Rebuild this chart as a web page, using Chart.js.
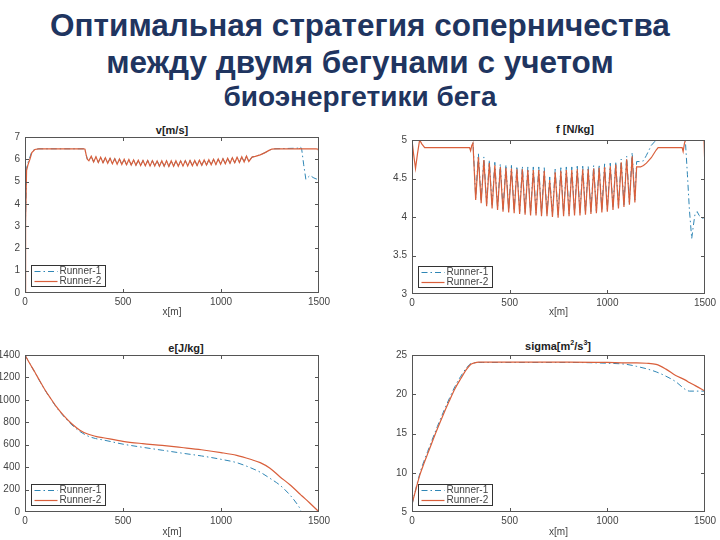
<!DOCTYPE html>
<html><head><meta charset="utf-8">
<script src="https://cdn.jsdelivr.net/npm/chart.js@4/dist/chart.umd.min.js"></script>
<style>
html,body{margin:0;padding:0;background:#fff;width:720px;height:540px;overflow:hidden;}
.t{position:absolute;left:0;width:720px;text-align:center;font-family:"Liberation Sans",Arial,sans-serif;font-weight:bold;color:#1f3560;white-space:nowrap;}
.st{position:absolute;font-family:"Liberation Sans",Arial,sans-serif;font-weight:bold;font-size:11px;color:#222;transform:translate(-50%,-50%);white-space:nowrap;line-height:12px;}
.st sup{font-size:7px;line-height:0;}
canvas{position:absolute;}
</style></head><body>
<div class="t" style="top:6px;font-size:31.5px;line-height:38px;">Оптимальная стратегия соперничества</div>
<div class="t" style="top:43px;font-size:31.5px;line-height:38px;">между двумя бегунами с учетом</div>
<div class="t" style="top:81px;font-size:28px;line-height:32px;">биоэнергетики бега</div>

<div class="st" style="left:172px;top:130px">v[m/s]</div>
<div class="st" style="left:575px;top:129px">f [N/kg]</div>
<div class="st" style="left:186px;top:348px">e[J/kg]</div>
<div class="st" style="left:558px;top:346px">sigma[m<sup>2</sup>/s<sup>3</sup>]</div>

<canvas id="cv" width="340" height="210" style="left:0;top:115px;width:340px;height:210px"></canvas>
<canvas id="cf" width="360" height="210" style="left:360px;top:115px;width:360px;height:210px"></canvas>
<canvas id="ce" width="340" height="210" style="left:0;top:330px;width:340px;height:210px"></canvas>
<canvas id="cs" width="360" height="210" style="left:360px;top:330px;width:360px;height:210px"></canvas>

<script>
// ---------- DATA ----------
const seriesNames = ['Runner-1', 'Runner-2'];
const xTicks = [0, 500, 1000, 1500];

// v [m/s]
const vDist = [0,3,8,15,25,35,50,70,300,306,312,318,326,
 338,350,362,374,386,398,410,422,434,446,458,470,482,494,506,518,530,542,554,566,578,590,602,614,626,638,650,662,674,686,698,710,722,734,746,758,770,782,794,806,818,830,842,854,866,878,890,902,914,926,938,950,962,974,986,998,1010,1022,1034,1046,1058,1070,1082,1094,1106,1118,1130,1142,
 1150,1158,1175,1200,1225,1245,1260,1275,1394,1402,1411,1422,1433,1445,1455,1470,1485,1496,1500];
const vRunner2 = [0,3.2,5.5,5.75,6.0,6.3,6.44,6.47,6.47,6.45,6.2,6.0,5.93,
 6.14,5.88,6.11,5.86,6.09,5.84,6.07,5.82,6.05,5.80,6.03,5.78,6.01,5.77,6.00,5.75,5.99,5.74,5.97,5.73,5.96,5.72,5.95,5.71,5.95,5.70,5.94,5.70,5.93,5.69,5.93,5.69,5.93,5.68,5.93,5.69,5.93,5.69,5.93,5.70,5.94,5.70,5.95,5.71,5.95,5.72,5.96,5.73,5.97,5.74,5.98,5.75,6.00,5.77,6.01,5.78,6.03,5.80,6.05,5.82,6.07,5.84,6.09,5.86,6.11,5.88,6.14,5.90,
 6.0,6.1,6.13,6.2,6.3,6.4,6.46,6.47,6.47,6.48,6.47,6.47,6.47,6.47,6.47,6.47,6.47,6.45,6.3];
const vRunner1 = [0,3.6,5.6,5.85,6.1,6.35,6.45,6.47,6.47,6.45,6.2,6.0,5.93,
 6.14,5.88,6.11,5.86,6.09,5.84,6.07,5.82,6.05,5.80,6.03,5.78,6.01,5.77,6.00,5.75,5.99,5.74,5.97,5.73,5.96,5.72,5.95,5.71,5.95,5.70,5.94,5.70,5.93,5.69,5.93,5.69,5.93,5.68,5.93,5.69,5.93,5.69,5.93,5.70,5.94,5.70,5.95,5.71,5.95,5.72,5.96,5.73,5.97,5.74,5.98,5.75,6.00,5.77,6.01,5.78,6.03,5.80,6.05,5.82,6.07,5.84,6.09,5.86,6.11,5.88,6.14,5.90,
 6.0,6.1,6.13,6.2,6.3,6.4,6.46,6.47,6.5,6.56,6.5,5.75,5.1,5.2,5.28,5.18,5.12,5.1,5.08];

// f [N/kg]
const fDist = [0,8,18,28,39,50,65,295,300,306,312,
 326,340,354,368,382,396,410,424,438,452,466,481,495,509,523,537,551,565,579,593,607,621,635,649,663,677,691,705,719,733,748,762,776,790,804,818,832,846,860,874,888,902,916,930,944,958,972,986,1000,1015,1029,1043,1057,1071,1085,1099,1113,1127,1141,
 1150,1170,1185,1200,1225,1250,1260,1383,1388,1395,1400,1410,1420,1432,1440,1449,1460,1470,1483,1495,1500];
const fRunner2 = [5.0,4.82,4.63,4.82,5.0,4.95,4.9,4.9,4.86,4.93,4.96,
 4.22,4.78,4.18,4.74,4.14,4.70,4.11,4.67,4.09,4.65,4.07,4.64,4.06,4.63,4.05,4.62,4.04,4.62,4.03,4.61,4.02,4.61,4.02,4.61,4.01,4.60,4.01,4.48,4.00,4.58,3.99,4.60,4.01,4.61,4.01,4.61,4.02,4.62,4.02,4.62,4.03,4.62,4.04,4.63,4.05,4.64,4.06,4.65,4.07,4.66,4.09,4.68,4.11,4.71,4.13,4.75,4.16,4.79,4.19,
 4.65,4.65,4.67,4.7,4.77,4.87,4.9,4.9,4.85,4.96,5.0,5.0,5.0,5.0,5.0,5.0,5.0,5.0,5.0,5.0,4.6];
const fRunner1 = [5.0,5.0,5.0,5.0,5.0,5.0,5.0,5.0,5.0,5.0,4.99,
 4.25,4.82,4.21,4.78,4.17,4.74,4.14,4.71,4.12,4.69,4.10,4.68,4.09,4.67,4.08,4.66,4.07,4.66,4.06,4.65,4.05,4.65,4.05,4.65,4.04,4.64,4.04,4.52,4.03,4.62,4.02,4.64,4.04,4.65,4.04,4.65,4.05,4.66,4.05,4.66,4.06,4.66,4.07,4.67,4.08,4.68,4.09,4.69,4.10,4.70,4.12,4.72,4.14,4.75,4.16,4.79,4.19,4.84,4.22,
 4.72,4.72,4.73,4.8,4.93,5.0,5.0,5.0,5.0,5.0,4.97,4.55,4.1,3.72,3.88,4.04,4.07,4.02,3.99,3.98,3.98];

// e [J/kg]
const eDist = [0,25,50,75,100,130,160,200,240,280,320,360,400,500,600,700,800,900,1000,1080,1150,1200,1250,1300,1350,1400,1412,1450,1500];
const eRunner2 = [1400,1322,1248,1170,1095,1015,940,855,785,730,695,675,662,630,610,594,575,555,530,505,470,440,390,315,245,165,145,85,0];
const eRunner1 = [1400,1322,1246,1168,1092,1012,935,848,775,718,678,655,642,605,577,551,525,500,470,440,395,355,300,240,155,40,0,0,0];

// sigma [m^2/s^3]
const sDist = [0,20,40,60,80,100,130,160,190,220,250,280,300,320,340,360,400,600,800,1000,1100,1150,1200,1250,1300,1350,1400,1420,1450,1500];
const sRunner2 = [6.0,7.9,9.7,11.1,12.4,13.7,15.6,17.4,19.1,20.7,22.0,23.2,23.8,24.0,24.1,24.1,24.1,24.1,24.1,24.05,24.0,24.0,23.95,23.8,23.2,22.4,21.8,21.5,21.1,20.4];
const sRunner1 = [5.9,8.0,9.9,11.4,12.7,14.0,15.9,17.7,19.4,21.0,22.3,23.4,23.9,24.0,24.05,24.05,24.05,24.05,24.05,23.95,23.8,23.55,23.25,22.85,22.3,21.6,20.6,20.4,20.4,20.4];

// ---------- RENDER ----------
const FONT = '"Liberation Sans", Arial, sans-serif';
const C1 = '#2f86b5', C2 = '#d95f3b';

const boxPlugin = {
  id: 'axesBox',
  afterDatasetsDraw(chart) {
    const {ctx, chartArea: a, scales} = chart;
    const L = Math.round(a.left), R = Math.round(a.right) - 1;
    const T = Math.round(a.top), B = Math.round(a.bottom) - 1;
    ctx.save();
    ctx.setLineDash([]);
    ctx.fillStyle = '#555';
    // axes frame (1px solid rectangles)
    ctx.fillRect(L, T, R - L + 1, 1);
    ctx.fillRect(L, B, R - L + 1, 1);
    ctx.fillRect(L, T, 1, B - T + 1);
    ctx.fillRect(R, T, 1, B - T + 1);
    const tl = 4;
    scales.x.ticks.forEach(t => {
      if (t.value <= scales.x.min || t.value >= scales.x.max) return;
      const p = Math.round(scales.x.getPixelForValue(t.value));
      ctx.fillRect(p, B - tl + 1, 1, tl);
      ctx.fillRect(p, T, 1, tl);
    });
    scales.y.ticks.forEach(t => {
      if (t.value <= scales.y.min || t.value >= scales.y.max) return;
      const p = Math.round(scales.y.getPixelForValue(t.value));
      ctx.fillRect(L, p, tl, 1);
      ctx.fillRect(R - tl + 1, p, tl, 1);
    });
    // legend inside the axes, bottom-left
    ctx.font = '10px ' + FONT;
    const tw = Math.max(...chart.data.datasets.map(d => ctx.measureText(d.label).width));
    const bw = Math.round(29 + tw + 3), bh = 21;
    const bx = L + 6 + 0.5, by = B - 6 - bh + 0.5;
    ctx.fillStyle = '#fff'; ctx.fillRect(bx, by, bw, bh);
    ctx.strokeStyle = '#333'; ctx.lineWidth = 1; ctx.strokeRect(bx, by, bw, bh);
    chart.data.datasets.forEach((d, i) => {
      const y = Math.round(by + 5.5 + i * 9.5) + 0.5;
      ctx.strokeStyle = d.borderColor; ctx.lineWidth = d.borderWidth;
      ctx.setLineDash(d.borderDash || []);
      ctx.beginPath(); ctx.moveTo(bx + 3, y); ctx.lineTo(bx + 26, y); ctx.stroke();
      ctx.setLineDash([]);
      ctx.fillStyle = '#444'; ctx.textBaseline = 'middle'; ctx.textAlign = 'left';
      ctx.fillText(d.label, bx + 28, y);
    });
    ctx.restore();
  }
};

function pts(xs, ys) { return ys.map((y, i) => ({x: xs[i], y})); }

function makeChart(id, xs, y1, y2, yr, lay) {
  const smooth = lay.smooth ? {cubicInterpolationMode: 'monotone'} : {tension: 0};
  return new Chart(document.getElementById(id), {
    type: 'line',
    data: {
      datasets: [
        Object.assign({label: seriesNames[0], data: pts(xs, y1), borderColor: C1, borderWidth: 1,
          borderDash: [6, 3, 1.5, 3], pointRadius: 0, order: 1, fill: false}, smooth),
        Object.assign({label: seriesNames[1], data: pts(xs, y2), borderColor: C2, borderWidth: 1.2,
          pointRadius: 0, order: 0, fill: false}, smooth)
      ]
    },
    options: {
      responsive: false, animation: false, devicePixelRatio: 1,
      layout: {padding: {left: 0, right: lay.pr, top: lay.pt, bottom: 0}},
      plugins: {legend: {display: false}, tooltip: {enabled: false}, title: {display: false}},
      scales: {
        x: {
          type: 'linear', min: xTicks[0], max: xTicks[xTicks.length - 1],
          afterBuildTicks: s => { s.ticks = xTicks.map(v => ({value: v})); },
          ticks: {color: '#444', font: {size: 10, family: FONT}, padding: 3, maxRotation: 0,
            autoSkip: false, callback: v => String(v)},
          grid: {display: false, drawTicks: false}, border: {display: false},
          title: {display: true, text: 'x[m]', color: '#444', font: {size: 10, family: FONT},
            padding: {top: 0, bottom: lay.tb}},
          afterFit: s => { s.height = lay.xh; }
        },
        y: {
          type: 'linear', min: yr[0], max: yr[1],
          ticks: {stepSize: yr[2], color: '#444', font: {size: 10, family: FONT}, padding: 5,
            callback: v => String(v)},
          grid: {display: false, drawTicks: false}, border: {display: false},
          afterFit: s => { s.width = lay.yw; }
        }
      }
    },
    plugins: [boxPlugin]
  });
}

makeChart('cv', vDist, vRunner1, vRunner2, [0, 7, 1], {pr: 21, pt: 22, xh: 32, yw: 25, tb: 7});
makeChart('cf', fDist, fRunner1, fRunner2, [3, 5, 0.5], {pr: 15, pt: 25, xh: 31, yw: 52, tb: 7});
makeChart('ce', eDist, eRunner1, eRunner2, [0, 1400, 200], {pr: 21, pt: 25, xh: 28, yw: 25, tb: 2, smooth: true});
makeChart('cs', sDist, sRunner1, sRunner2, [5, 25, 5], {pr: 15, pt: 25, xh: 28, yw: 52, tb: 2, smooth: true});
</script>
</body></html>
